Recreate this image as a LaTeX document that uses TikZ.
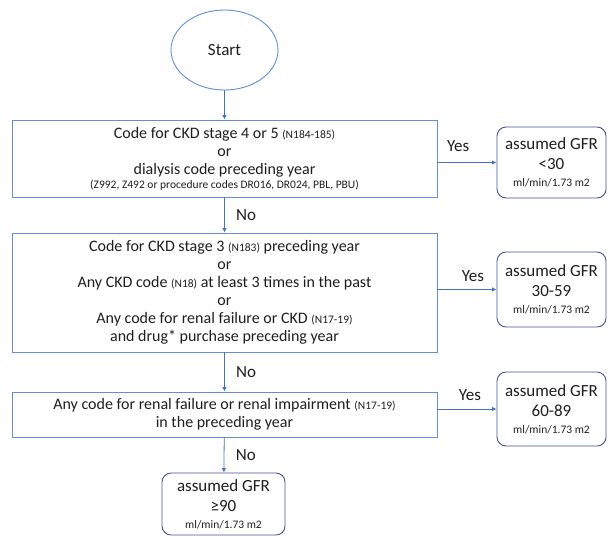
\documentclass[tikz,border=0pt]{standalone}
\usepackage{fontspec}
\setmainfont{Carlito}
\usetikzlibrary{shapes.geometric,arrows.meta,positioning}

\definecolor{boxblue}{RGB}{100,140,215}
\definecolor{resblue}{RGB}{70,80,150}
\definecolor{arrowblue}{RGB}{68,114,196}
\definecolor{txt}{RGB}{30,30,30}

\newcommand{\smallcode}{\fontsize{11.5}{13}\selectfont}

\tikzset{
  test/.style={draw=boxblue,line width=0.9pt,rectangle,minimum width=425pt,
    align=center,inner sep=0pt,text=txt,font=\fontsize{16}{18}\selectfont},
  result/.style={draw=resblue,line width=0.9pt,rectangle,rounded corners=9pt,
    minimum width=109pt,align=center,inner sep=0pt,text=txt,
    font=\fontsize{17}{20}\selectfont},
  flow/.style={draw=arrowblue,line width=0.8pt,-{Latex[length=4.5pt,width=4.5pt]}},
  answer/.style={text=txt,font=\fontsize{17}{20}\selectfont}
}

\begin{document}
\begin{tikzpicture}[x=1pt,y=-1pt]
\useasboundingbox (0,0) rectangle (612,536);

% start and the three tests
\node[ellipse,draw=boxblue,line width=0.9pt,minimum width=107pt,minimum height=80pt,text=txt,font=\fontsize{17}{20}\selectfont] (start) at (224.5,50) {Start};
\node[test,minimum height=77pt] (test1) at (224.5,158.5) {Code for CKD stage 4 or 5 {\smallcode (N184-185)}\\or\\dialysis code preceding year\\[-4pt]{\smallcode (Z992, Z492 or procedure codes DR016, DR024, PBL, PBU)}};
\node[test,minimum height=119pt] (test2) at (224.5,292.5) {Code for CKD stage 3 {\smallcode (N183)} preceding year\\or\\Any CKD code {\smallcode (N18)} at least 3 times in the past\\or\\Any code for renal failure or CKD {\smallcode (N17-19)}\\and drug* purchase preceding year};
\node[test,minimum height=45pt] (test3) at (224.5,414.5) {Any code for renal failure or renal impairment {\smallcode (N17-19)}\\in the preceding year};

% outcomes
\node[result,minimum height=71pt] (gfr1) at (551.5,162.5) {assumed GFR\\<30\\[-3pt]{\smallcode ml/min/1.73 m2}};
\node[result,minimum height=75pt] (gfr2) at (551.5,289.5) {assumed GFR\\30-59\\[-3pt]{\smallcode ml/min/1.73 m2}};
\node[result,minimum height=74pt] (gfr3) at (551.5,409) {assumed GFR\\60-89\\[-3pt]{\smallcode ml/min/1.73 m2}};
\node[result,minimum width=123pt,minimum height=62pt] (gfr4) at (223.5,504) {assumed GFR\\≥90\\[-3pt]{\smallcode ml/min/1.73 m2}};

% connectors
\draw[flow] (start) -- (test1);
\draw[flow] (test1) -- node[answer,right=8pt] {No} (test2);
\draw[flow] (test2) -- node[answer,right=8pt] {No} (test3);
\draw[flow] (test3) -- node[answer,right=8pt] {No} (gfr4);
\draw[flow] (test1.east |- gfr1.west) -- node[answer,pos=0.35,above=7pt] {Yes} (gfr1);
\draw[flow] (test2.east |- gfr2.west) -- node[answer,pos=0.6,above=4pt] {Yes} (gfr2);
\draw[flow] (test3.east |- gfr3.west) -- node[answer,pos=0.55,above=5pt] {Yes} (gfr3);
\end{tikzpicture}
\end{document}
